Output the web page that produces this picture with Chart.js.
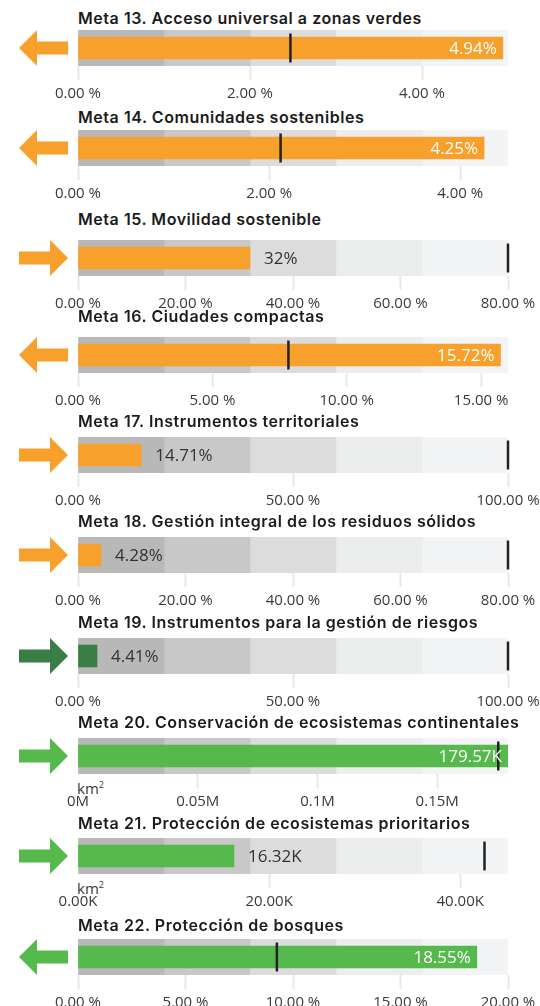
<!DOCTYPE html>
<html lang="es">
<head>
    <meta charset="UTF-8">
    <title>Metas - bullet charts</title>
    <style>
        body, html {
            margin: 0;
            padding: 0;
            background: #ffffff;
        }
        #wrap {
            position: relative;
            width: 540px;
            height: 1006px;
            overflow: hidden;
        }
        .title {
            position: absolute;
            left: 78px;
            font-family: Inter, sans-serif;
            font-weight: 600;
            font-size: 16px;
            letter-spacing: 0.55px;
            line-height: 20px;
            color: #1b1b1b;
            white-space: nowrap;
        }
        .unit {
            position: absolute;
            left: 77px;
            font-family: "Open Sans", sans-serif;
            font-size: 15px;
            line-height: 16px;
            color: #3a3a3a;
        }
        .unit sup {
            font-size: 9px;
            vertical-align: 6px;
        }
        .arrow {
            position: absolute;
            left: 0;
        }
        canvas {
            position: absolute;
            left: 0;
        }
    </style>
</head>
<body>
<div id="wrap"></div>

<script src="https://cdn.jsdelivr.net/npm/chart.js"></script>
<script>
    // data
    const metas = [
        'Meta 13. Acceso universal a zonas verdes',
        'Meta 14. Comunidades sostenibles',
        'Meta 15. Movilidad sostenible',
        'Meta 16. Ciudades compactas',
        'Meta 17. Instrumentos territoriales',
        'Meta 18. Gestión integral de los residuos sólidos',
        'Meta 19. Instrumentos para la gestión de riesgos',
        'Meta 20. Conservación de ecosistemas continentales',
        'Meta 21. Protección de ecosistemas prioritarios',
        'Meta 22. Protección de bosques'
    ];
    const values = [4.94, 4.25, 32, 15.72, 14.71, 4.28, 4.41, 179570, 16320, 18.55];
    const targets = [2.47, 2.12, 80, 7.83, 100, 80, 100, 175500, 42540, 9.25];
    const axisMax = [5, 4.5, 80, 16, 100, 80, 100, 179570, 45000, 20];
    const tickValues = [
        [0, 2, 4],
        [0, 2, 4],
        [0, 20, 40, 60, 80],
        [0, 5, 10, 15],
        [0, 50, 100],
        [0, 20, 40, 60, 80],
        [0, 50, 100],
        [0, 50000, 100000, 150000],
        [0, 20000, 40000],
        [0, 5, 10, 15, 20]
    ];
    const tickUnits = ['%', '%', '%', '%', '%', '%', '%', 'M', 'K', '%'];
    const valueUnits = ['%', '%', '%', '%', '%', '%', '%', 'K', 'K', '%'];
    const unitNotes = ['', '', '', '', '', '', '', 'km', 'km', ''];
    const arrows = ['left', 'left', 'right', 'left', 'right', 'right', 'right', 'right', 'right', 'left'];
    const bandSteps = [0, 0.2, 0.4, 0.6, 0.8, 1];

    // styles / layout
    const ORANGE = '#f7a02b', GREEN = '#56b94b', DARKGREEN = '#3a7d45';
    const barColors = [ORANGE, ORANGE, ORANGE, ORANGE, ORANGE, ORANGE, DARKGREEN, GREEN, GREEN, GREEN];
    const bandColors = ['#b8b8b8', '#c8c8c8', '#dcdcdc', '#eceded', '#f3f4f6'];
    const bandTops = [30, 130, 240, 337, 437, 537, 638, 738, 838, 939];
    const titleCenters = [18.7, 118.3, 219.5, 317, 421.7, 521.7, 622.5, 723.3, 823.5, 925.8];
    const BAND_H = 36, AXIS_H = 40;

    function tickText(v, unit) {
        if (unit === 'M') return (v / 1e6) + 'M';
        if (unit === 'K') return (v / 1000).toFixed(2) + 'K';
        return v.toFixed(2) + ' %';
    }
    function valueText(v, unit) {
        if (unit === 'K') return (v / 1000) + 'K';
        return v + '%';
    }

    const valueLabel = {
        id: 'valueLabel',
        afterDatasetsDraw(chart) {
            const i = chart.options.plugins.valueLabel.idx;
            const bar = chart.getDatasetMeta(1).data[0];
            const ctx = chart.ctx;
            const inside = values[i] / axisMax[i] > 0.5;
            ctx.save();
            ctx.font = '17px "Open Sans"';
            ctx.textBaseline = 'middle';
            if (inside) {
                ctx.fillStyle = '#ffffff';
                ctx.textAlign = 'right';
                ctx.fillText(valueText(values[i], valueUnits[i]), bar.x - 6, bar.y + 1);
            } else {
                ctx.fillStyle = '#333333';
                ctx.textAlign = 'left';
                ctx.fillText(valueText(values[i], valueUnits[i]), bar.x + 14, bar.y + 1);
            }
            ctx.restore();
        }
    };

    Chart.defaults.font.family = '"Open Sans", sans-serif';
    const wrap = document.getElementById('wrap');

    function arrowSvg(dir, color) {
        const pts = dir === 'left'
            ? '19,18 37,0 37,11.5 68,11.5 68,24.5 37,24.5 37,36'
            : '19,11.5 50,11.5 50,0 68,18 50,36 50,24.5 19,24.5';
        return '<svg width="80" height="36" viewBox="0 0 80 36"><polygon points="' + pts + '" fill="' + color + '"/></svg>';
    }

    metas.forEach(function (meta, i) {
        const t = document.createElement('div');
        t.className = 'title';
        t.textContent = meta;
        t.style.top = (titleCenters[i] - 11) + 'px';
        wrap.appendChild(t);

        const a = document.createElement('div');
        a.className = 'arrow';
        a.style.top = bandTops[i] + 'px';
        a.innerHTML = arrowSvg(arrows[i], barColors[i]);
        wrap.appendChild(a);

        if (unitNotes[i]) {
            const u = document.createElement('div');
            u.className = 'unit';
            u.innerHTML = unitNotes[i] + '<sup>2</sup>';
            u.style.top = (bandTops[i] + BAND_H + 3) + 'px';
            wrap.appendChild(u);
        }

        const c = document.createElement('canvas');
        c.width = 540;
        c.height = BAND_H + AXIS_H;
        c.style.top = bandTops[i] + 'px';
        wrap.appendChild(c);

        const datasets = [
            {
                type: 'line',
                data: [targets[i]],
                showLine: false,
                pointStyle: 'line',
                rotation: 90,
                radius: 14.5,
                borderWidth: 2.5,
                borderColor: '#222222',
                clip: false,
                order: 0
            },
            {
                type: 'bar',
                data: [[0, values[i]]],
                backgroundColor: barColors[i],
                barThickness: 22,
                grouped: false,
                order: 1
            }
        ];
        for (let b = 0; b < 5; b++) {
            datasets.push({
                type: 'bar',
                data: [[axisMax[i] * bandSteps[b], axisMax[i] * bandSteps[b + 1]]],
                backgroundColor: bandColors[b],
                barPercentage: 1,
                categoryPercentage: 1,
                grouped: false,
                order: 2
            });
        }

        new Chart(c.getContext('2d'), {
            type: 'bar',
            data: { labels: ['a'], datasets: datasets },
            options: {
                indexAxis: 'y',
                responsive: false,
                animation: false,
                devicePixelRatio: 1,
                layout: { autoPadding: false, padding: { left: 78, right: 32, top: 0, bottom: 0 } },
                plugins: {
                    legend: { display: false },
                    tooltip: { enabled: false },
                    valueLabel: { idx: i }
                },
                scales: {
                    y: { display: false, offset: true },
                    x: {
                        min: 0,
                        max: axisMax[i],
                        border: { display: false },
                        grid: {
                            drawOnChartArea: false,
                            tickLength: 14,
                            tickWidth: 2,
                            tickColor: function (ctx) {
                                return (unitNotes[i] && ctx.index === 0) ? 'rgba(0,0,0,0)' : '#e8e8e8';
                            }
                        },
                        afterBuildTicks: function (s) {
                            s.ticks = tickValues[i].map(function (v) { return { value: v }; });
                        },
                        ticks: {
                            autoSkip: false,
                            maxRotation: 0,
                            padding: 4.5,
                            color: '#3a3a3a',
                            font: { size: 15 },
                            callback: function (v) { return tickText(v, tickUnits[i]); }
                        },
                        afterFit: function (s) {
                            s.height = AXIS_H;
                            s.paddingLeft = 0;
                            s.paddingRight = 0;
                        }
                    }
                }
            },
            plugins: [valueLabel]
        });
    });
</script>
</body>
</html>
